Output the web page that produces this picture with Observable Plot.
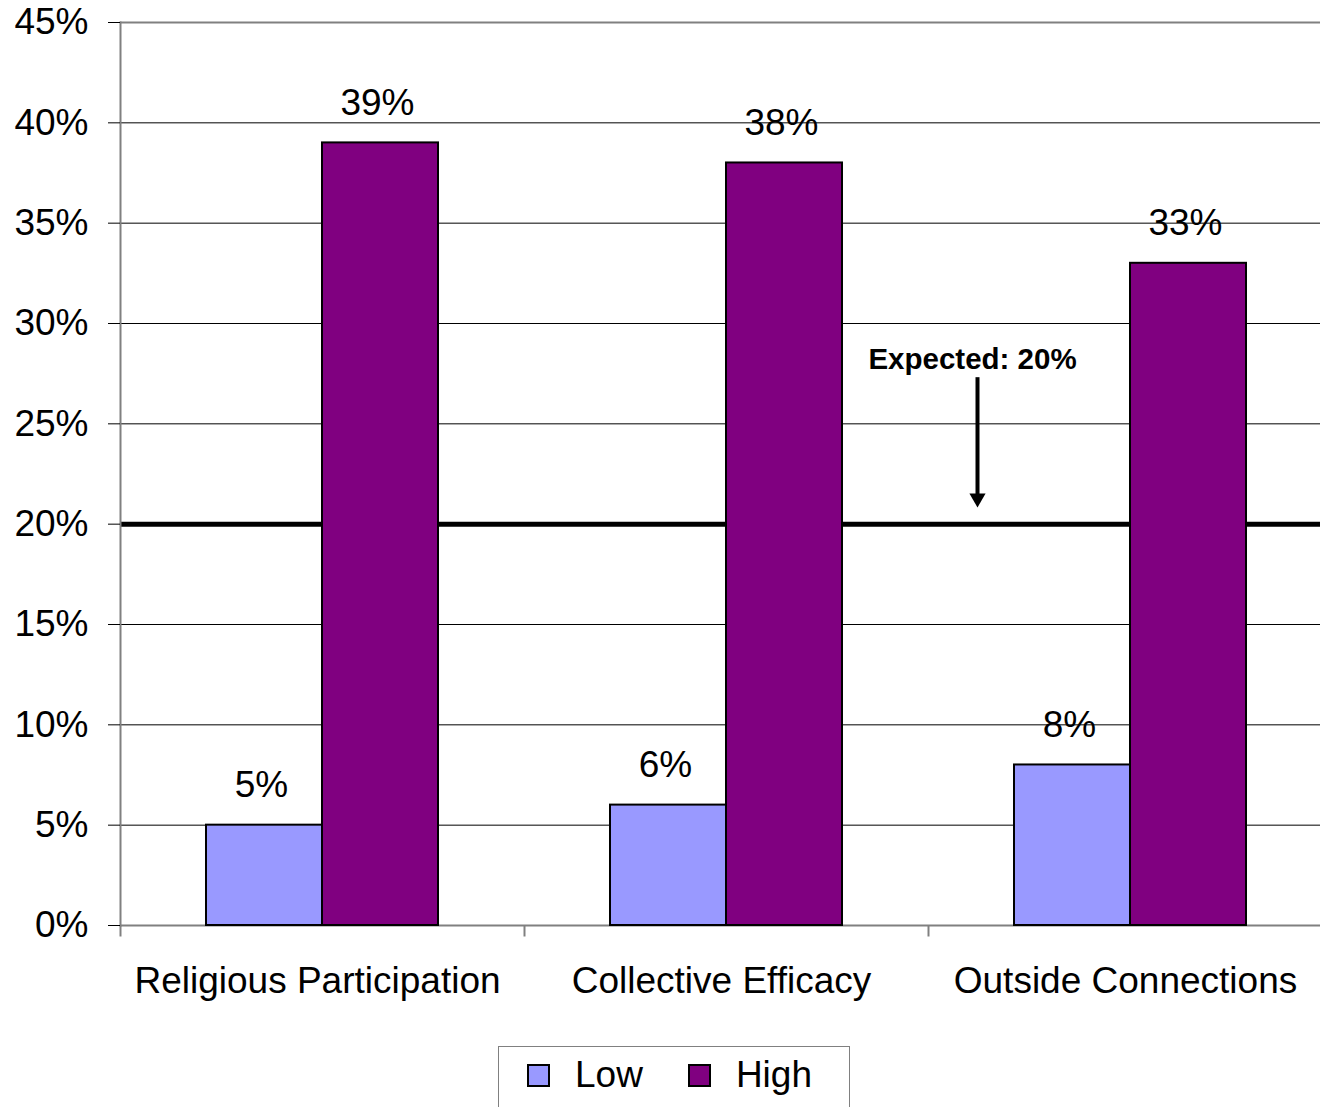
<!DOCTYPE html>
<html>
<head>
<meta charset="utf-8">
<script src="https://cdn.jsdelivr.net/npm/d3@7"></script>
<script src="https://cdn.jsdelivr.net/npm/@observablehq/plot@0.6"></script>
<style>
  html, body { margin: 0; padding: 0; background: #fff; overflow: hidden; }
  body { font-family: "Liberation Sans", Arial, sans-serif; color: #000; }
  #chart { width: 1320px; overflow: hidden; }
  #chart svg { display: block; max-width: none !important; }
  .legend {
    position: absolute; left: 498px; top: 1046px;
    width: 352px; height: 70px;
    border: 1.5px solid #808080; box-sizing: border-box;
    display: flex; align-items: center; padding-left: 28px; padding-bottom: 12px;
    font-size: 37px;
  }
  .legend .sw { width: 19px; height: 19px; border: 2px solid #000; }
  .legend .lab { margin-left: 25px; }
  .legend .gap { width: 45px; }
</style>
</head>
<body>
<div id="chart"></div>
<div class="legend" id="legend"></div>
<script>
// Share of respondents in the low and high groups for each measure (%)
const categories = ["Religious Participation", "Collective Efficacy", "Outside Connections"];
const series = ["Low", "High"];
const lowValues = [5, 6, 8];
const highValues = [39, 38, 33];
const seriesColors = ["#9999FF", "#800080"];
const yTicks = [0, 5, 10, 15, 20, 25, 30, 35, 40, 45];
const expected = 20;               // expected share, drawn as a reference line
const expectedLabel = "Expected: 20%";
const labelLevel = 28.2;           // annotation text level (%)
const arrowTop = 27.3;             // arrow shaft start (%)

const rows = categories.flatMap((c, i) => [
  {category: c, series: "Low", value: lowValues[i]},
  {category: c, series: "High", value: highValues[i]}
]);

const note = [{category: "Outside Connections", series: "Low", label: expectedLabel}];

// short downward stroke used for the category boundary ticks
const tickDown = {
  draw(context, size) {
    const l = Math.sqrt(size / Math.PI);
    context.moveTo(0, 0);
    context.lineTo(0, l);
  }
};

const font = "Liberation Sans, Arial, sans-serif";

const chart = Plot.plot({
  width: 1332,
  height: 1040,
  marginLeft: 120,
  marginRight: 0,
  marginTop: 22,
  marginBottom: 115,
  style: {fontFamily: font, fontSize: "37px", color: "#000", background: "#fff"},
  fx: {domain: categories, padding: 0, label: null},
  x: {domain: series, paddingInner: 0, paddingOuter: 0.741, axis: null},
  y: {domain: [0, 45], label: null},
  color: {domain: series, range: seriesColors},
  marks: [
    Plot.ruleY(yTicks.filter(d => d > 0 && d < 45), {stroke: "#000", strokeWidth: 1}),
    Plot.ruleY([0, 45], {stroke: "#808080", strokeWidth: 2}),
    Plot.ruleY([expected], {stroke: "#000", strokeWidth: 5}),
    Plot.frame({anchor: "left", facetAnchor: "left", stroke: "#808080", strokeWidth: 2}),
    Plot.dot([0], {frameAnchor: "bottom-left", symbol: tickDown, r: 11, fill: "none", stroke: "#808080", strokeWidth: 2}),
    Plot.axisY({ticks: yTicks, tickFormat: d => d + "%", tickSize: 12, tickPadding: 20, fontSize: 37, label: null}),
    Plot.axisFx({anchor: "bottom", tickSize: 0, tickPadding: 41, dx: -5, fontSize: 37, label: null}),
    Plot.barY(rows, {fx: "category", x: "series", y: "value", fill: "series", stroke: "#000", strokeWidth: 2}),
    Plot.text(rows, {fx: "category", x: "series", y: "value", text: d => d.value + "%", dy: -40, dx: -3, fontSize: 37}),
    Plot.ruleX(note, {fx: "category", x: "series", y1: arrowTop, y2: expected, insetBottom: 24, dx: -95, stroke: "#000", strokeWidth: 4}),
    Plot.dot(note, {fx: "category", x: "series", y: expected, dx: -95, dy: -26, symbol: "triangle", rotate: 180, r: 6, fill: "#000", stroke: "none"}),
    Plot.text(note, {fx: "category", x: "series", y: labelLevel, dx: -100, text: "label", fontSize: 29.5, fontWeight: "bold"})
  ]
});
document.getElementById("chart").append(chart);

// legend below the chart
const legend = document.getElementById("legend");
series.forEach((s, i) => {
  if (i > 0) {
    const g = document.createElement("span");
    g.className = "gap";
    legend.append(g);
  }
  const sw = document.createElement("span");
  sw.className = "sw";
  sw.style.background = seriesColors[i];
  const lab = document.createElement("span");
  lab.className = "lab";
  lab.textContent = s;
  legend.append(sw, lab);
});
</script>
</body>
</html>
